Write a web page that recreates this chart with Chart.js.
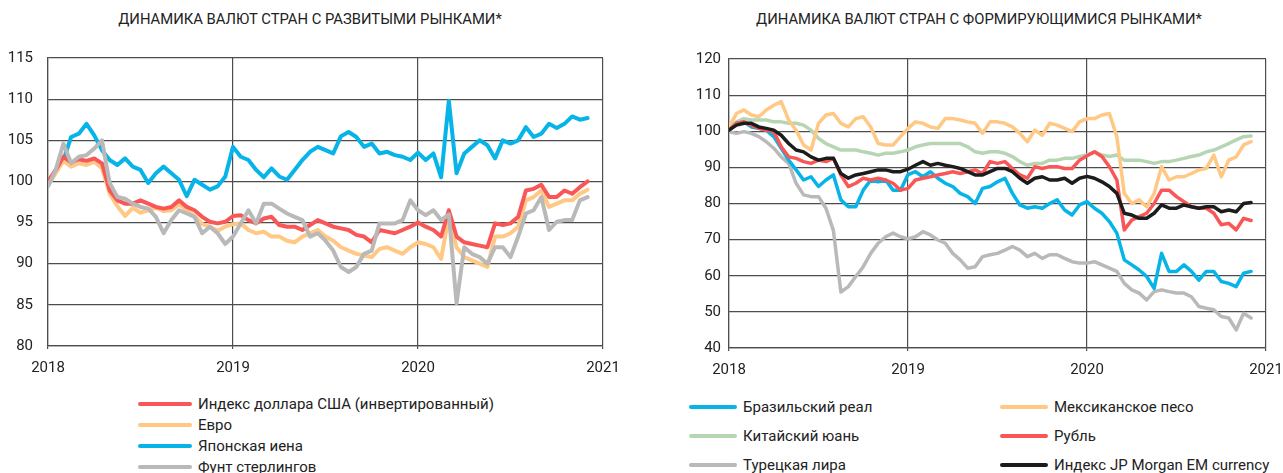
<!DOCTYPE html>
<html>
<head>
<meta charset="utf-8">
<script src="https://cdn.jsdelivr.net/npm/chart.js@4.4.1/dist/chart.umd.min.js"></script>
<style>
    body { margin: 0; width: 1283px; height: 473px; overflow: hidden; background: #fff; font-family: Roboto, sans-serif; color: #222; }
    .title { position: absolute; top: 10px; font-size: 14.8px; text-align: center; white-space: nowrap; }
    canvas { position: absolute; top: 0; }
    .legend-item { position: absolute; font-size: 15px; white-space: nowrap; line-height: 18px; }
    .legend-item span.swatch { position: absolute; top: 7px; height: 4px; border-radius: 2px; }
</style>
</head>
<body>
<div class="title" style="left:0;width:620px;">ДИНАМИКА ВАЛЮТ СТРАН С РАЗВИТЫМИ РЫНКАМИ*</div>
<div class="title" style="left:680px;width:598px;">ДИНАМИКА ВАЛЮТ СТРАН С ФОРМИРУЮЩИМИСЯ РЫНКАМИ*</div>
<canvas id="devChart" width="640" height="385" style="left:0"></canvas>
<canvas id="emChart" width="643" height="385" style="left:640px"></canvas>
<div id="devLegend"></div>
<div id="emLegend"></div>
<script>
// half-month sampling, starting Jan 2018
const startYear = 2018;
const periodsPerYear = 24;
const yearTicks = [2018, 2019, 2020, 2021];

// developed markets (index, start = 100)
const devLabels = ['Индекс доллара США (инвертированный)', 'Евро', 'Японская иена', 'Фунт стерлингов'];
const usdInverted = [100, 101.4, 103, 102.3, 102.7, 102.5, 102.8, 102.2, 98.9, 97.7, 97.3, 97.3, 97.7, 97.3, 96.9, 96.7, 96.9, 97.7, 96.9, 96.5, 95.7, 95.1, 94.9, 95.1, 95.8,
    95.9, 95.3, 94.9, 95.5, 95.7, 94.7, 94.5, 94.5, 94.1, 94.7, 95.3, 94.9, 94.5, 94.3, 94.1, 93.5, 93.3, 92.6, 94.1, 93.9, 93.7, 94.1, 94.5, 95.0,
    94.5, 94.1, 93.3, 96.5, 93.3, 92.6, 92.4, 92.2, 92, 94.9, 94.7, 94.9, 95.7, 98.9, 99.1, 99.6, 98.1, 98.1, 98.9, 98.5, 99.3, 100];
const euro = [99.5, 101, 102.5, 101.8, 102.2, 102, 102.4, 101.6, 98.5, 97, 95.8, 96.8, 96.2, 96.5, 96.8, 96.4, 96.5, 97.2, 96.5, 95.8, 94.8, 94.5, 94, 94.5, 94.8,
    94.9, 94.1, 93.7, 93.9, 93.3, 93.3, 92.8, 92.6, 93.3, 93.7, 94.1, 93.3, 92.8, 92, 91.6, 91.2, 91, 90.8, 91.8, 92, 91.6, 91.2, 92, 92.6,
    92.4, 92, 90.6, 95.8, 92, 90.8, 90.4, 90, 89.6, 93.3, 93.3, 93.7, 94.5, 97.7, 98.1, 98.9, 96.9, 97.3, 97.7, 97.7, 98.5, 99];
const yen = [99.5, 101.4, 102.6, 105.4, 105.8, 107, 105.6, 103.8, 102.6, 102, 102.8, 101.8, 101.4, 99.8, 101, 101.8, 101, 100.2, 98.2, 100.2, 99.6, 99, 99.4, 100.6, 104.2,
    103, 102.6, 101.4, 100.5, 101.6, 100.6, 100.2, 101.4, 102.6, 103.6, 104.2, 103.8, 103.4, 105.5, 106, 105.4, 104.2, 104.6, 103.4, 103.6, 103.2, 103, 102.6, 103.5,
    102.6, 103.4, 100.5, 109.8, 101, 103.4, 104.2, 105, 104.4, 102.8, 105, 104.6, 105, 106.6, 105.4, 105.8, 107, 106.5, 107, 107.9, 107.5, 107.7];
const pound = [99.4, 101.4, 104.6, 102.2, 103, 103.2, 104, 105, 99.8, 98.1, 97.9, 97.3, 96.9, 96.7, 95.7, 93.7, 95.3, 96.5, 96.1, 95.7, 93.7, 94.5, 93.7, 92.4, 93.3,
    94.9, 96.5, 94.9, 97.3, 97.3, 96.7, 96.1, 95.7, 95.3, 93.3, 93.7, 92.8, 91.6, 89.6, 89, 89.6, 91.2, 91.6, 94.9, 94.9, 94.9, 95.3, 97.7, 96.5,
    95.9, 96.5, 95.3, 96, 85.2, 92, 91.2, 90.8, 90, 92, 92, 90.8, 93.3, 96.1, 96.5, 98.1, 94.1, 95.1, 95.3, 95.3, 97.7, 98.1];

// emerging markets
const emLabels = ['Бразильский реал', 'Мексиканское песо', 'Китайский юань', 'Рубль', 'Турецкая лира', 'Индекс JP Morgan EM currency'];
const real = [100.3, 102.2, 102.6, 101.2, 100.8, 100.3, 98.5, 95.3, 92, 89.3, 86.5, 87.4, 84.7, 86.5, 87.9, 81, 79.1, 79.1, 83.7, 86.5, 86, 86.5, 83.7, 83.7, 88,
    88.8, 87.4, 88.8, 87, 85.6, 84.7, 82.8, 81.9, 80, 84.2, 84.7, 86, 87, 82.8, 79.6, 78.7, 79.1, 78.7, 80, 81, 78.2, 76.8, 79.6, 80.5,
    78.7, 77.3, 75, 71.8, 64.4, 63, 61.6, 59.8, 56.5, 66.2, 61.2, 61.2, 63, 61.2, 58.8, 61.2, 61.2, 58.4, 57.9, 57, 60.7, 61.2];
const peso = [101.2, 104.9, 105.9, 104.5, 104, 105.9, 107.2, 108.2, 103.1, 100.3, 96.2, 94.8, 102.2, 104.5, 104.9, 102.2, 101.2, 103.5, 104, 101.2, 96.6, 96.2, 96.2, 98.5, 100.8,
    102.6, 102.2, 101.2, 100.8, 103.5, 103.5, 103.1, 102.6, 102.2, 99.4, 102.6, 102.6, 102.2, 101.2, 99.4, 97.1, 100.3, 98.9, 102.2, 101.7, 100.8, 99.9, 102.6, 103.5,
    103.5, 104.5, 104.9, 98.5, 82.8, 80, 81, 79.1, 82.8, 90.2, 86.5, 87.4, 87.4, 88.3, 89.3, 89.7, 93.4, 87.4, 92, 92.9, 96.2, 97.1];
const yuan = [101.2, 102.6, 103.5, 103.1, 103.1, 103.1, 102.6, 102.6, 102.2, 102.2, 101.7, 100.3, 98, 96.6, 95.7, 94.8, 94.8, 94.8, 94.3, 93.9, 93.4, 93.9, 93.9, 94.3, 94.8,
    95.7, 96.2, 96.6, 96.6, 96.6, 96.6, 96.6, 95.7, 94.3, 93.9, 94.3, 94.3, 93.9, 93, 91.6, 90.6, 91.1, 91.1, 92, 92, 92.5, 92.5, 93, 93.4,
    94.3, 93.4, 93, 93.4, 92, 92, 92, 91.6, 91.1, 91.6, 91.6, 92, 92.5, 93, 93.4, 94.3, 94.8, 95.7, 96.6, 97.6, 98.5, 98.7];
const ruble = [100.3, 102.2, 102.6, 101.7, 100.8, 100.3, 99.9, 95.7, 92.9, 92.5, 91.6, 91.1, 92, 91.6, 92.5, 87.9, 84.7, 85.6, 87, 86.5, 87, 86.5, 85.6, 83.7, 84.2,
    86.5, 87, 87.4, 87.9, 88.3, 88.8, 88.3, 88.8, 89.3, 88.3, 91.6, 91.1, 91.6, 89.7, 87.9, 87, 90.2, 89.7, 90.2, 90.2, 89.7, 89.7, 92, 93.2,
    94.3, 93, 90.2, 86.5, 72.7, 75.4, 76.4, 77.3, 80, 83.7, 83.7, 81.9, 80.5, 79.1, 78.7, 78.7, 77.3, 74.1, 74.5, 72.7, 75.9, 75.3];
const lira = [99.9, 99.4, 99.9, 99.4, 98.5, 97.1, 95.3, 92.9, 91.1, 85.6, 82.4, 81.9, 81.9, 78.7, 72.5, 55.5, 57, 59.8, 62.5, 66.2, 69, 70.8, 71.8, 70.8, 70.2,
    70.8, 72.2, 71.3, 69.9, 69, 66.2, 64.4, 62.1, 62.5, 65.3, 65.8, 66.2, 67.1, 68.1, 67.1, 65.3, 66.2, 64.8, 65.8, 65.8, 64.8, 63.9, 63.5, 63.5,
    63.9, 63, 62.1, 61.2, 57.9, 56.1, 55.2, 53.3, 55.6, 56.1, 55.6, 55.2, 55.2, 54.2, 51.5, 51, 50.6, 48.7, 48.3, 45, 49.6, 48.3];
const jpmEm = [100.3, 101.7, 102.2, 102.2, 101.2, 100.8, 100.3, 98.9, 96.6, 94.8, 94.3, 92.9, 92, 92.5, 92.5, 88.3, 87, 87.9, 88.3, 88.8, 89.3, 89.3, 88.8, 88.8, 89.5,
    90.6, 91.6, 90.6, 91.1, 90.6, 90.2, 89.7, 88.8, 87.9, 87.9, 88.8, 89.7, 89.7, 88.8, 87, 85.6, 87, 87.4, 86.5, 86.5, 87, 85.6, 87, 87.5,
    87, 86, 84.7, 82.8, 77.3, 76.8, 75.9, 75.9, 77.3, 79.6, 78.7, 78.7, 79.6, 79.1, 78.7, 79.1, 79.1, 77.7, 78.2, 77.7, 80, 80.3];

const RED = '#f95757', ORANGE = '#ffc884', BLUE = '#06b4e8', GREY = '#b9b9b9', GREEN = '#b6d6b3', BLACK = '#1c1c1c';

function toPoints(values) {
    return values.map((v, i) => ({ x: startYear + i / periodsPerYear, y: v }));
}

function makeDataset(label, values, color, width, order) {
    return {
        label: label, data: toPoints(values), borderColor: color, backgroundColor: color,
        borderWidth: width, pointRadius: 0, tension: 0, order: order,
        borderCapStyle: 'round', borderJoinStyle: 'round'
    };
}

function makeOptions(yMin, yMax, yStep, yAxisWidth, yPad, rightPad, topPad, plotBottom) {
    const gridColor = '#4d4d4d';
    return {
        responsive: false,
        animation: false,
        layout: { padding: { left: 0, right: rightPad, top: topPad, bottom: 0 } },
        plugins: { legend: { display: false }, tooltip: { enabled: false }, title: { display: false } },
        scales: {
            x: {
                type: 'linear', min: 2018, max: 2021,
                afterBuildTicks: s => { s.ticks = yearTicks.map(v => ({ value: v })); },
                afterFit: s => { s.height = 385 - plotBottom; s.paddingLeft = 0; s.paddingRight = 0; },
                ticks: { callback: v => String(v), padding: 10, color: '#222', font: { family: 'Roboto', size: 15 }, maxRotation: 0 },
                grid: { color: gridColor, lineWidth: 1.2, drawTicks: true, tickLength: 3 },
                border: { color: gridColor, width: 1.2 }
            },
            y: {
                min: yMin, max: yMax,
                afterFit: s => { s.width = yAxisWidth; },
                ticks: { stepSize: yStep, padding: yPad, color: '#222', font: { family: 'Roboto', size: 15 } },
                grid: { color: gridColor, lineWidth: 1.2, drawTicks: false },
                border: { color: gridColor, width: 1.2 }
            }
        }
    };
}

const devColors = [RED, ORANGE, BLUE, GREY];
new Chart(document.getElementById('devChart'), {
    type: 'line',
    data: {
        datasets: [
            makeDataset(devLabels[0], usdInverted, RED, 4, 2),
            makeDataset(devLabels[1], euro, ORANGE, 4, 3),
            makeDataset(devLabels[2], yen, BLUE, 4, 4),
            makeDataset(devLabels[3], pound, GREY, 4, 1)
        ]
    },
    options: makeOptions(80, 115, 5, 48, 15, 37, 58, 346)
});

const emColors = [BLUE, ORANGE, GREEN, RED, GREY, BLACK];
new Chart(document.getElementById('emChart'), {
    type: 'line',
    data: {
        datasets: [
            makeDataset(emLabels[0], real, BLUE, 3.5, 3),
            makeDataset(emLabels[1], peso, ORANGE, 3.5, 4),
            makeDataset(emLabels[2], yuan, GREEN, 3.5, 6),
            makeDataset(emLabels[3], ruble, RED, 3.5, 2),
            makeDataset(emLabels[4], lira, GREY, 3.5, 5),
            makeDataset(emLabels[5], jpmEm, BLACK, 3.5, 1)
        ]
    },
    options: makeOptions(40, 120, 10, 89, 8, 17, 59, 348)
});

// HTML legends
function addLegendItem(parent, label, color, x, y, lineLen) {
    const item = document.createElement('div');
    item.className = 'legend-item';
    item.style.left = x + 'px';
    item.style.top = (y - 9) + 'px';
    item.style.paddingLeft = (lineLen + 6) + 'px';
    const sw = document.createElement('span');
    sw.className = 'swatch';
    sw.style.left = '0px';
    sw.style.width = lineLen + 'px';
    sw.style.background = color;
    item.appendChild(sw);
    item.appendChild(document.createTextNode(label));
    parent.appendChild(item);
}

const devLegend = document.getElementById('devLegend');
devLabels.forEach((l, i) => addLegendItem(devLegend, l, devColors[i], 138, 404 + i * 21, 54));

const emLegend = document.getElementById('emLegend');
const emCols = [689, 1000];
emLabels.forEach((l, i) => {
    const col = i % 2, row = Math.floor(i / 2);
    addLegendItem(emLegend, l, emColors[i], emCols[col], 407 + row * 29, 48);
});
</script>
</body>
</html>
